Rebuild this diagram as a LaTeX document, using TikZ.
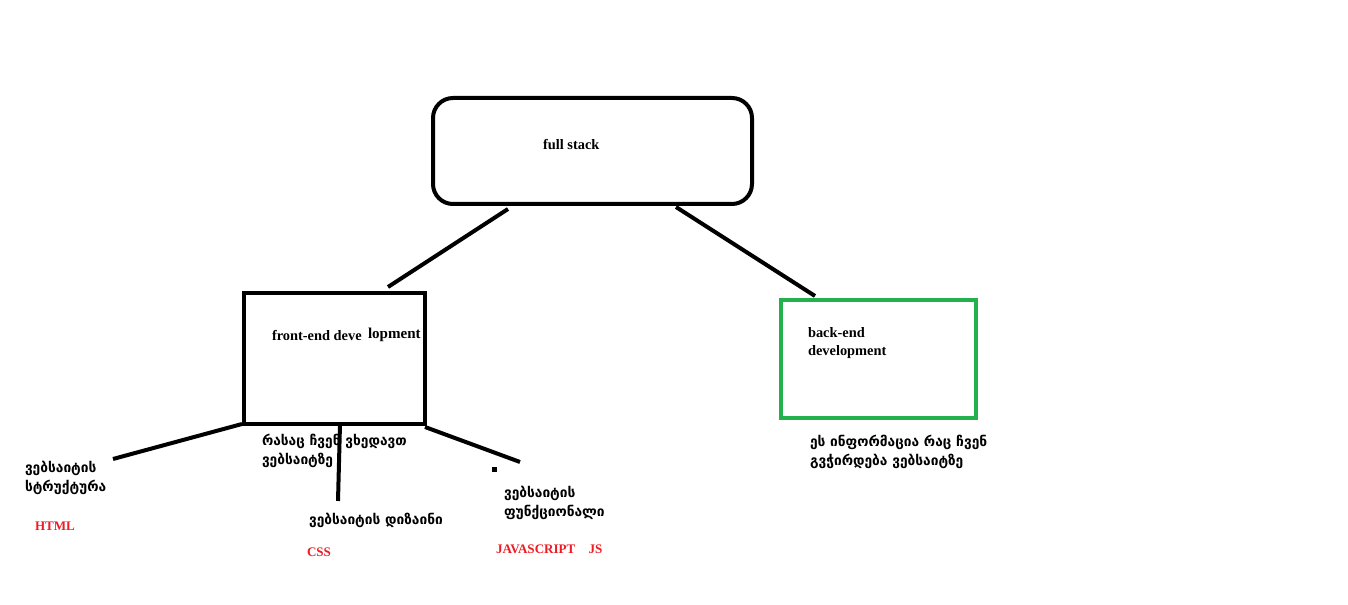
\documentclass[tikz,border=0pt]{standalone}
\usepackage{fontspec}
\setmainfont{Liberation Serif}
\newfontfamily\geo{DejaVu Sans}
\definecolor{paintgreen}{RGB}{34,177,76}
\definecolor{paintred}{RGB}{237,28,36}
\begin{document}
\begin{tikzpicture}[x=0.75pt,y=-0.75pt,
  line width=3pt,
  lbl/.style={anchor=west,inner sep=0pt,font=\fontsize{10.8}{12}\selectfont\bfseries},
  geotxt/.style={anchor=west,inner sep=0pt,align=left,font=\geo\bfseries\fontsize{10.3}{14.2}\selectfont},
  redtxt/.style={anchor=west,inner sep=0pt,text=paintred,font=\fontsize{9.8}{12}\selectfont\bfseries},
  conn/.style={line width=3pt,line cap=butt}]
\useasboundingbox[fill=white] (0,0) rectangle (1348,605);

% top box
\node (full) [draw,rounded corners=15pt,minimum width=319*0.75pt,minimum height=106*0.75pt,line width=3pt,anchor=north west,inner sep=0pt] at (431,96) {};
\node (fulltxt) [lbl] at (541,145) {full stack};

% front-end and back-end boxes
\node (front) [draw,minimum width=181*0.75pt,minimum height=131*0.75pt,anchor=north west,inner sep=0pt] at (242,291) {};
\node (fronttxt1) [lbl] at (270,336) {front-end deve};
\node (fronttxt2) [lbl,font=\fontsize{11.3}{12}\selectfont\bfseries] at (366,335) {lopment};

\node (back) [draw=paintgreen,minimum width=195*0.75pt,minimum height=118*0.75pt,anchor=north west,inner sep=0pt] at (779,298) {};
\node (backtxt) [lbl,align=left,font=\fontsize{10.8}{13.5}\selectfont\bfseries] at (806,343) {back-end\\development};
\node (backnote) [geotxt] at (808,452) {ეს ინფორმაცია რაც ჩვენ\\გვჭირდება ვებსაიტზე};

% branch texts
\node (htmlnote) [geotxt] at (23,478) {ვებსაიტის\\სტრუქტურა};
\node (html) [redtxt] at (33,526) {HTML};
\node (seenote) [geotxt] at (260,451) {რასაც ჩვენ ვხედავთ\\ვებსაიტზე};
\node (cssnote) [geotxt] at (307,520) {ვებსაიტის დიზაინი};
\node (css) [redtxt] at (305,552) {CSS};
\node (jsnote) [geotxt] at (502,503) {ვებსაიტის\\ფუნქციონალი};
\node (js) [redtxt] at (494,549) {JAVASCRIPT\hspace{10pt}JS};
\node (dot) [fill,minimum size=5*0.75pt,inner sep=0pt] at (494,469) {};

% connector end points
\coordinate (fullL) at (508,209);
\coordinate (fullR) at (676,207);
\coordinate (frontTop) at (388,287);
\coordinate (backTop) at (815,296);
\coordinate (frontBL) at (242,424);
\coordinate (frontBM) at (340,424);
\coordinate (frontBR) at (425,427);
\coordinate (htmlEnd) at (113,459);
\coordinate (cssEnd) at (338,501);
\coordinate (jsEnd) at (520,462);

\draw[conn] (fullL) -- (frontTop);
\draw[conn] (fullR) -- (backTop);
\draw[conn] (frontBL) -- (htmlEnd);
\draw[conn] (frontBM) -- (cssEnd);
\draw[conn] (frontBR) -- (jsEnd);
\end{tikzpicture}
\end{document}
